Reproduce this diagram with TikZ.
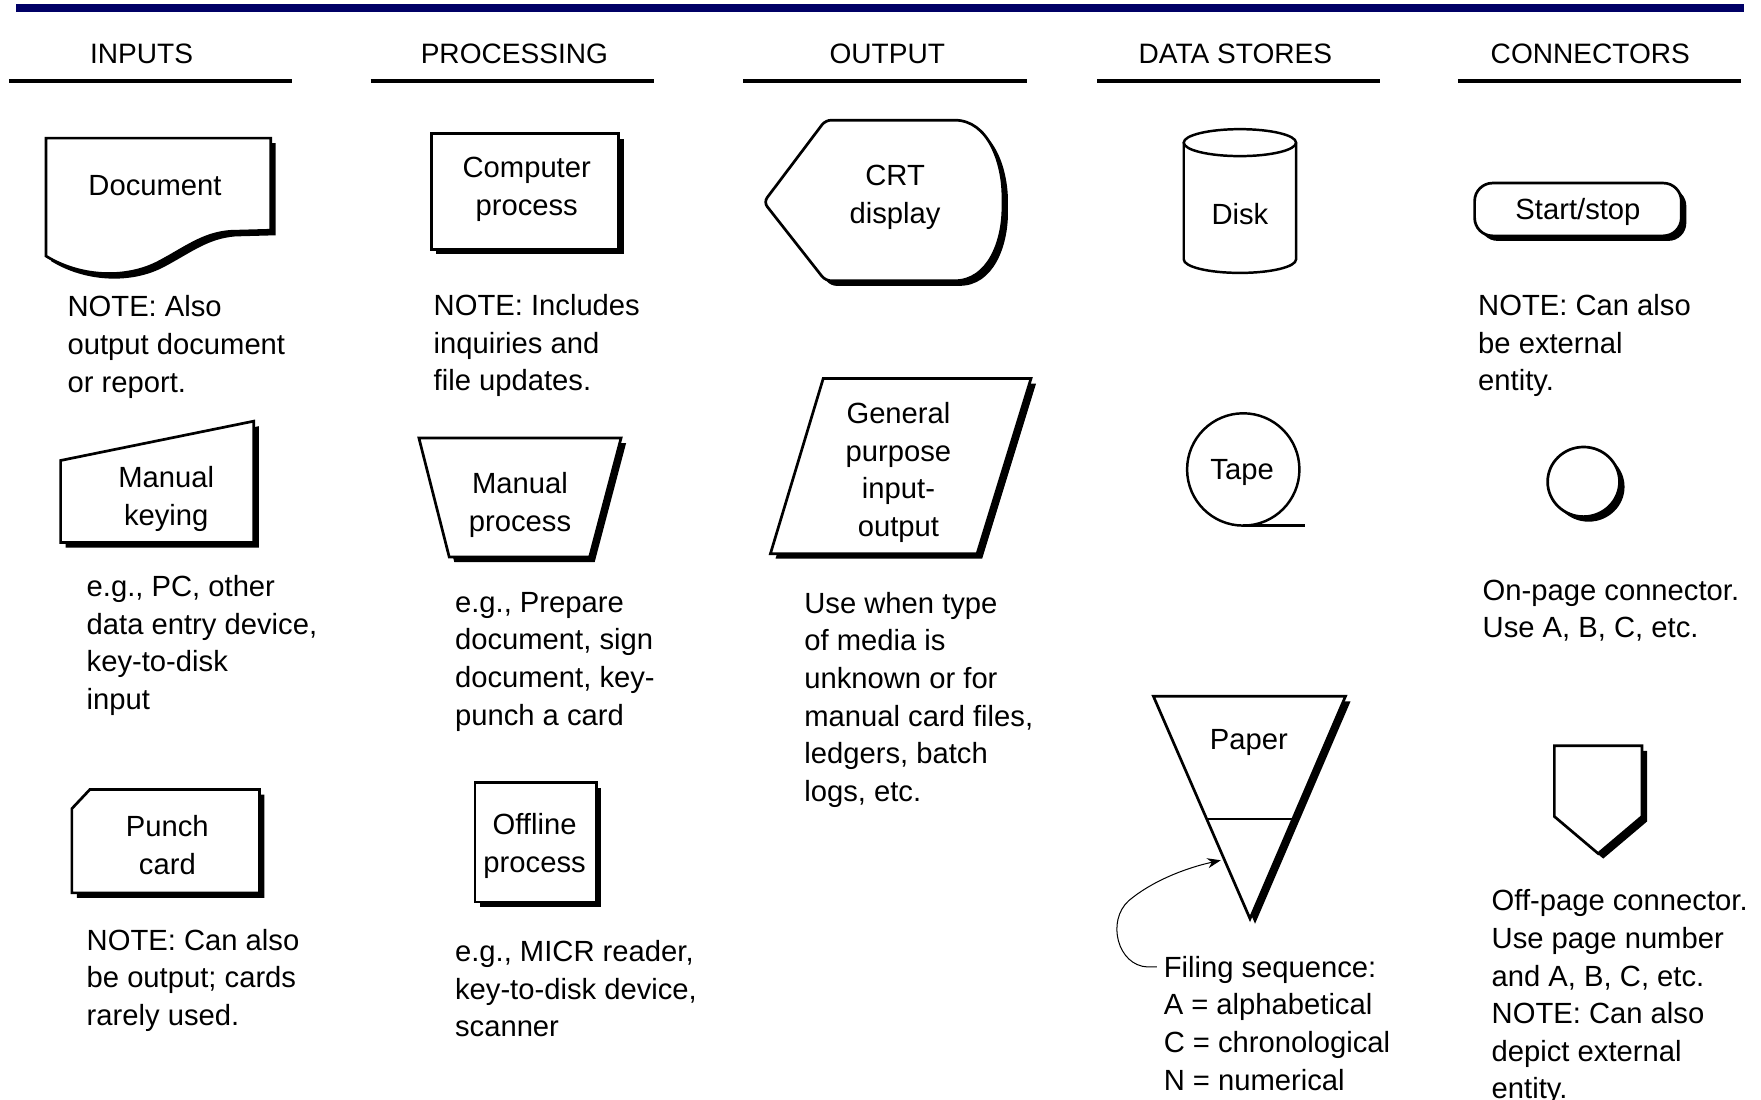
\documentclass[tikz,border=0pt]{standalone}
\usepackage{fontspec}
\setmainfont{Liberation Sans}
\usetikzlibrary{shadows,arrows.meta}
\definecolor{barblue}{RGB}{0,0,102}
\newcommand\txtsize{\fontsize{26}{33.5}\selectfont}
\newcommand\hdsize{\fontsize{25}{30}\selectfont}
\tikzset{
  sym/.style={draw, line width=2.4pt, fill=white,
    drop shadow={shadow xshift=4.5pt, shadow yshift=-4.5pt, opacity=1, fill=black}},
  plain/.style={draw, line width=2.2pt},
  lbl/.style={align=center, font=\txtsize, inner sep=0pt, yshift=-2.5pt},
  note/.style={anchor=north west, align=left, font=\txtsize, inner sep=0pt},
  head/.style={font=\hdsize, inner sep=0pt},
  rule/.style={line width=3pt},
}
\begin{document}
\begin{tikzpicture}[x=1pt,y=1pt]
      \useasboundingbox (0,0) rectangle (1568,-979);
      \fill[barblue] (14,-4) rectangle (1553,-11);
      \node[head] (hin) at (126,-48) {INPUTS};
      \node[head] (hproc) at (458,-48) {PROCESSING};
      \node[head] (hout) at (790,-48) {OUTPUT};
      \node[head] (hstore) at (1100,-48) {DATA STORES};
      \node[head] (hconn) at (1416,-48) {CONNECTORS};
      \draw[rule] (8,-72) -- (260,-72);
      \draw[rule] (330,-72) -- (582,-72);
      \draw[rule] (662,-72) -- (914,-72);
      \draw[rule] (977,-72) -- (1229,-72);
      \draw[rule] (1298,-72) -- (1550,-72);
      \draw[sym] (41,-228) .. controls (70,-246) and (110,-249) .. (140,-234)
        .. controls (165,-221) and (180,-208) .. (205,-206) -- (241,-205)
        -- (241,-123) -- (41,-123) -- cycle;
      \node[lbl] (doc) at (138,-163) {Document};
      \node[note] (docnote) at (60,-263) {NOTE: Also\\output document\\or report.};
      \draw[sym] (54,-410) -- (226,-375) -- (226,-483) -- (54,-483) -- cycle;
      \node[lbl] (keying) at (148,-442) {Manual\\keying};
      \node[note] (keynote) at (77,-512) {e.g., PC, other\\data entry device,\\key-to-disk\\input};
      \draw[sym] (64,-720) -- (80,-703) -- (231,-703) -- (231,-795) -- (64,-795) -- cycle;
      \node[lbl] (punch) at (149,-750) {Punch\\card};
      \node[note] (punchnote) at (77,-827) {NOTE: Can also\\be output; cards\\rarely used.};
      \draw[sym] (384,-119) rectangle (551,-222);
      \node[lbl] (cproc) at (469,-166) {Computer\\process};
      \node[note] (cprocnote) at (386,-262) {NOTE: Includes\\inquiries and\\file updates.};
      \draw[sym] (373,-390) -- (553,-390) -- (525,-496) -- (400,-496) -- cycle;
      \node[lbl] (mproc) at (463,-447) {Manual\\process};
      \node[note] (mprocnote) at (405,-527) {e.g., Prepare\\document, sign\\document, key-\\punch a card};
      \draw[sym] (423,-697) rectangle (531,-803);
      \node[lbl] (oproc) at (476,-751) {Offline\\process};
      \node[note] (oprocnote) at (405,-837) {e.g., MICR reader,\\key-to-disk device,\\scanner};
      \draw[sym, rounded corners=5pt] (680,-180) -- (735,-107) -- (845,-107)
        .. controls (880,-107) and (893,-145) .. (893,-180)
        .. controls (893,-215) and (880,-250) .. (845,-250) -- (735,-250) -- cycle;
      \node[lbl] (crt) at (797,-173) {CRT\\display};
      \draw[sym] (733,-337) -- (918,-337) -- (870,-493) -- (686,-493) -- cycle;
      \node[lbl] (gpio) at (800,-418) {General\\purpose\\input-\\output};
      \node[note] (gpionote) at (716,-527) {Use when type\\of media is\\unknown or for\\manual card files,\\ledgers, batch\\logs, etc.};
      \draw[plain] (1104,-127) ellipse [x radius=50, y radius=12];
      \draw[plain] (1054,-127) -- (1054,-231) arc [start angle=180, end angle=360, x radius=50, y radius=12] -- (1154,-127);
      \node[lbl] (disk) at (1104,-188) {Disk};
      \draw[plain] (1107,-418) circle [radius=50];
      \draw[plain] (1107,-468) -- (1162,-468);
      \node[lbl] (tape) at (1106,-418) {Tape};
      \draw[sym] (1027,-620) -- (1198,-620) -- (1113,-818) -- cycle;
      \draw[plain] (1074,-729) -- (1151,-729);
      \node[lbl] (paper) at (1112,-659) {Paper};
      \coordinate (papl) at (1087,-766);
      \node[note] (filing) at (1036,-851) {Filing sequence:\\A = alphabetical\\C = chronological\\N = numerical};
      \draw[-{Stealth[length=12pt,width=9pt]}, line width=0.9pt] ([xshift=-6pt,yshift=-10pt]filing.north west) -- ++(-8,0)
        .. controls (995,-860) and (985,-820) .. (1005,-802)
        .. controls (1025,-785) and (1055,-773) .. (papl);
      \draw[sym, rounded corners=16pt] (1313,-163) rectangle (1497,-210);
      \node[lbl] (start) at (1405,-186) {Start/stop};
      \node[note] (startnote) at (1316,-262) {NOTE: Can also\\be external\\entity.};
      \draw[sym] (1410,-429) ellipse [x radius=32, y radius=31];
      \node[note] (onnote) at (1320,-516) {On-page connector.\\Use A, B, C, etc.};
      \draw[sym] (1384,-664) -- (1462,-664) -- (1462,-727) -- (1423,-760) -- (1384,-727) -- cycle;
      \node[note] (offnote) at (1328,-792) {Off-page connector.\\Use page number\\and A, B, C, etc.\\NOTE: Can also\\depict external\\entity.};
    \end{tikzpicture}
\end{document}
